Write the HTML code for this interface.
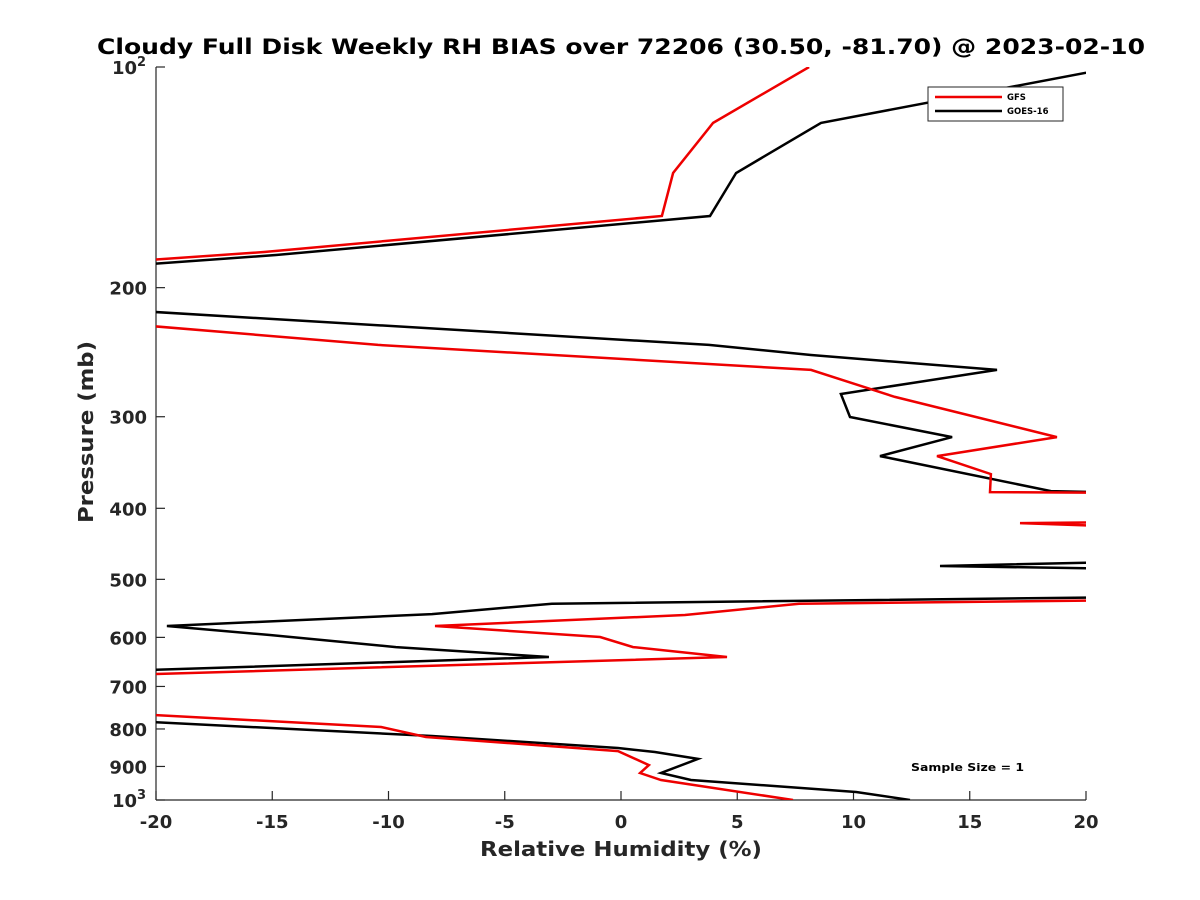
<!DOCTYPE html>
<html><head><meta charset="utf-8"><style>
html,body{margin:0;padding:0;background:#fff;}
svg{display:block;font-family:"DejaVu Sans","Liberation Sans",sans-serif;}
</style></head><body>
<svg id="chart" width="1200" height="900" viewBox="0 0 1200 900" xmlns="http://www.w3.org/2000/svg">
<defs><clipPath id="plotclip"><rect x="156" y="67" width="930" height="733"/></clipPath></defs>
<rect width="1200" height="900" fill="#fff"/>
<text x="97" y="54" textLength="1048" lengthAdjust="spacingAndGlyphs" font-size="21" font-weight="bold" fill="#000">Cloudy Full Disk Weekly RH BIAS over 72206 (30.50, -81.70) @ 2023-02-10</text>
<g id="axes"></g>
<g id="series" clip-path="url(#plotclip)"></g>
<text x="480" y="856" textLength="282" lengthAdjust="spacingAndGlyphs" font-size="20" font-weight="bold" fill="#262626">Relative Humidity (%)</text>
<text transform="translate(93,523) rotate(-90)" textLength="182" lengthAdjust="spacingAndGlyphs" font-size="20" font-weight="bold" fill="#262626">Pressure (mb)</text>
<text x="911" y="771" textLength="113" lengthAdjust="spacingAndGlyphs" font-size="11" font-weight="bold" fill="#000">Sample Size = 1</text>
<g>
<rect x="928" y="87" width="135" height="34" fill="#fff" stroke="#262626" stroke-width="1"/>
<line x1="935" y1="97" x2="1002" y2="97" stroke="#e00" stroke-width="2.5"/>
<text x="1007" y="100" font-size="8.5" font-weight="bold" fill="#000">GFS</text>
<line x1="935" y1="111" x2="1002" y2="111" stroke="#000" stroke-width="2.5"/>
<text x="1007" y="114" font-size="8.5" font-weight="bold" fill="#000">GOES-16</text>
</g>
</svg>
<script>
const xTicks = [-20,-15,-10,-5,0,5,10,15,20];
const yTicks = [100,200,300,400,500,600,700,800,900,1000];
const yTickLabels = ['10^2','200','300','400','500','600','700','800','900','10^3'];
const gfsValues = [8.09,3.96,2.24,1.76,-15.35,-30,-30,-10.45,8.17,11.78,18.75,13.59,15.91,15.87,22,22,17.16,22,22,7.66,2.75,-8.0,-0.9,0.52,4.56,-22,-22,-10.32,-8.39,-0.13,1.2,0.82,1.72,7.4];
const gfsPressure = [100,119.2,139.5,159.7,178.8,192.7,212.6,239.4,259.0,281.9,319.8,339.5,359.2,380.2,381,417.6,419,424,533.7,539.7,559.3,578.9,599.3,618.5,638.2,676,760,795,820.4,857.5,896.2,918.8,939.2,1000];
const goesValues = [21.3,8.6,4.95,3.83,-14.84,-22,-22,3.78,8.17,16.17,9.46,9.85,14.24,11.14,18.49,22,22,13.72,22,22,-2.97,-8.13,-19.53,-15.1,-9.68,-3.1,-22,-22,-8.13,-0.13,1.46,3.31,1.72,3.01,10.11,12.43];
const goesPressure = [100,119.2,139.5,159.7,180.5,187.4,214.1,239.4,247.1,259.0,279.3,300.3,319.8,339.5,378.9,381,473.1,479.5,484,528.7,539.7,557.6,578.9,595.6,618.5,638.2,667.5,777.8,818,849.2,860,879,918.8,939.2,975.2,1000];

const X0=156,X1=1086,Y0=67,Y1=800;
function xs(v){return X0+(v+20)/40*(X1-X0);}
function ys(p){return Y0+(Math.log10(p)-2)*(Y1-Y0);}
const NS='http://www.w3.org/2000/svg';
const axes=document.getElementById('axes');
const series=document.getElementById('series');
function mk(tag,attrs,parent){const e=document.createElementNS(NS,tag);for(const k in attrs)e.setAttribute(k,attrs[k]);parent.appendChild(e);return e;}

const la=mk('line',{x1:X0,y1:Y0,x2:X0,y2:Y1,stroke:'#262626','stroke-width':1.2},axes);


const ba=mk('line',{x1:X0,y1:Y1,x2:X1,y2:Y1,stroke:'#262626','stroke-width':1.2},axes);



xTicks.forEach(function(t){
  const x=xs(t);
  const tk=mk('line',{x1:x,y1:Y1,x2:x,y2:Y1-9,stroke:'#262626','stroke-width':1.2},axes);
  
  
  const tx=mk('text',{x:x,y:Y1+28,'text-anchor':'middle','font-size':18,'font-weight':'bold',fill:'#262626'},axes);
  
  
  tx.textContent=String(t);
});
yTicks.forEach(function(p,i){
  const y=ys(p);
  const tk=mk('line',{x1:X0,y1:y,x2:X0+9,y2:y,stroke:'#262626','stroke-width':1.2},axes);
  
  
  const lab=yTickLabels[i];
  if(lab.indexOf('^')>=0){
    const parts=lab.split('^');
    const tx=mk('text',{x:X0-19,y:y+7,'text-anchor':'end','font-size':18,'font-weight':'bold',fill:'#262626'},axes);
    
    
    tx.textContent=parts[0];
    const sp=mk('text',{x:X0-19,y:y-1,'font-size':13,'font-weight':'bold',fill:'#262626'},axes);
    
    
    sp.textContent=parts[1];
  } else {
    const tx=mk('text',{x:X0-9,y:y+7,'text-anchor':'end','font-size':18,'font-weight':'bold',fill:'#262626'},axes);
    
    
    tx.textContent=lab;
  }
});

function pts(vals,press){return vals.map(function(v,i){return xs(v).toFixed(1)+','+ys(press[i]).toFixed(1);}).join(' ');}
const g1=mk('polyline',{points:pts(goesValues,goesPressure),fill:'none',stroke:'#000','stroke-width':2.5,'stroke-linejoin':'miter'},series);


const g2=mk('polyline',{points:pts(gfsValues,gfsPressure),fill:'none',stroke:'#e00','stroke-width':2.5,'stroke-linejoin':'miter'},series);


</script>
</body></html>
